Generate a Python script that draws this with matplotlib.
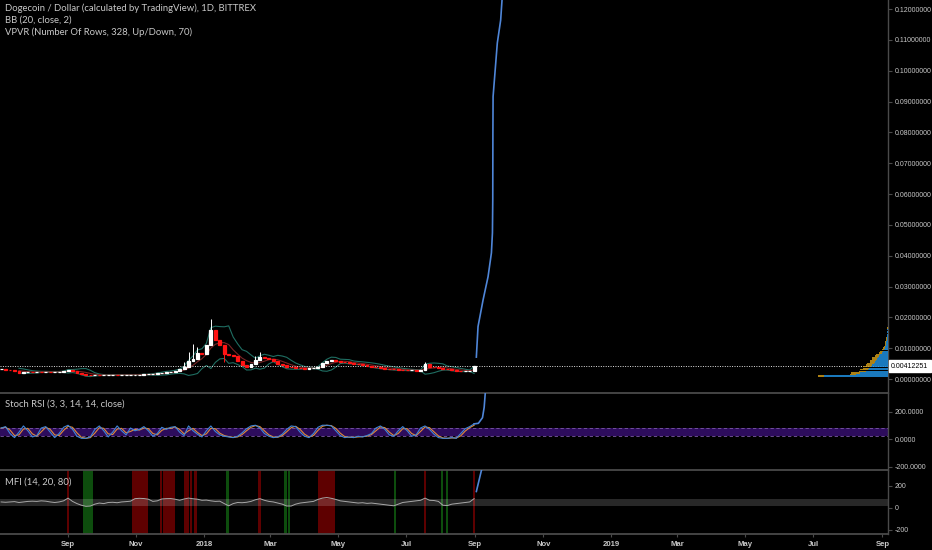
import numpy as np
import pandas as pd
import matplotlib
matplotlib.use("Agg")
import matplotlib.pyplot as plt
import matplotlib.dates as mdates
from matplotlib.ticker import FixedLocator, FixedFormatter, FuncFormatter
import matplotlib.transforms as mtransforms

plt.rcParams["font.family"] = ["Lato", "DejaVu Sans"]

# ---------------- data ----------------
start_date = "2017-07-03"
step_days = 4
closes = [
    0.0031, 0.0030, 0.0028, 0.0026, 0.0020, 0.0022, 0.0024, 0.0023, 0.0024, 0.0022,
    0.0023, 0.0022, 0.0023, 0.0024, 0.0025, 0.0030, 0.0027, 0.0020, 0.0016, 0.0014,
    0.0013, 0.0013, 0.0012, 0.0013, 0.0013, 0.0014, 0.0013, 0.0013, 0.0013, 0.0014,
    0.0014, 0.0014, 0.0015, 0.0015, 0.0017, 0.0019, 0.0021, 0.0023, 0.0024, 0.0027,
    0.0031, 0.0040, 0.0058, 0.0066, 0.0085, 0.0080, 0.0110, 0.0160, 0.0128, 0.0110,
    0.0082, 0.0078, 0.0075, 0.0058, 0.0046, 0.0040, 0.0050, 0.0062, 0.0070, 0.0067,
    0.0066, 0.0058, 0.0050, 0.0045, 0.0040, 0.0038, 0.0036, 0.0035, 0.0034, 0.0035,
    0.0036, 0.0040, 0.0052, 0.0060, 0.0062, 0.0057, 0.0055, 0.0054, 0.0052, 0.0050,
    0.0048, 0.0046, 0.0043, 0.0040, 0.0038, 0.0036, 0.0034, 0.0032, 0.0031, 0.0030,
    0.0029, 0.0028, 0.0028, 0.0027, 0.0028, 0.0048, 0.0040, 0.0038, 0.0036, 0.0033,
    0.0031, 0.0029, 0.0027, 0.0026, 0.0026, 0.0027, 0.0041]

wick_index = [41, 42, 43, 44, 47, 50, 57, 58, 95]
wick_high = [0.0056, 0.0086, 0.0115, 0.0105, 0.0195, 0.0084, 0.0075, 0.0088, 0.0056]
wick_low = [0.0031, 0.0040, 0.0058, 0.0066, 0.0110, 0.0055, 0.0050, 0.0062, 0.0028]

last_price = 0.00412251

# blue projection curve (main pane)
proj_dates = ["2018-09-02 00:00", "2018-09-03 12:00", "2018-09-08 00:00", "2018-09-12 12:00",
              "2018-09-15 12:00", "2018-09-16 10:00", "2018-09-16 17:00", "2018-09-16 20:00",
              "2018-09-17 00:00", "2018-09-18 10:00", "2018-09-20 19:00", "2018-09-23 19:00",
              "2018-09-25 00:00", "2018-09-26 00:00"]
proj_values = [0.0071, 0.0170, 0.0256, 0.0332, 0.0409, 0.0474, 0.0581, 0.0798,
               0.0916, 0.0981, 0.1090, 0.1164, 0.1229, 0.1300]

stoch_k = [
    80, 90, 40, 10, 50, 95, 60, 15, 25, 80,
    90, 50, 10, 40, 85, 100, 70, 20, 5, 5,
    15, 70, 95, 60, 15, 50, 95, 60, 30, 80,
    60, 70, 90, 60, 20, 40, 85, 70, 85, 90,
    50, 25, 95, 60, 35, 15, 60, 95, 55, 30,
    20, 15, 10, 20, 45, 75, 95, 100, 80, 40,
    20, 10, 15, 35, 70, 95, 90, 50, 20, 10,
    40, 85, 100, 100, 95, 60, 25, 10, 15, 10,
    20, 15, 25, 40, 80, 95, 70, 30, 20, 60,
    90, 60, 20, 30, 80, 95, 70, 35, 10, 5,
    5, 10, 5, 40, 75, 90, 110]
stoch_proj_dates = ["2018-08-31 00:00", "2018-09-03 20:00", "2018-09-07 12:00", "2018-09-09 00:00",
                    "2018-09-10 00:00"]
stoch_proj_values = [110, 114, 155, 230, 335]

mfi = [
    55, 52, 55, 58, 50, 55, 60, 62, 60, 65,
    62, 55, 50, 55, 65, 90, 60, 40, 25, 15,
    18, 35, 45, 40, 50, 52, 48, 55, 58, 62,
    85, 88, 86, 80, 60, 65, 82, 85, 86, 80,
    70, 82, 90, 84, 80, 70, 72, 65, 60, 62,
    40, 20, 40, 50, 48, 52, 60, 75, 85, 70,
    60, 55, 45, 35, 18, 18, 35, 45, 50, 55,
    60, 78, 90, 95, 88, 78, 65, 60, 55, 50,
    45, 48, 42, 45, 40, 35, 30, 25, 20, 35,
    50, 55, 60, 65, 70, 90, 70, 68, 60, 25,
    22, 35, 40, 45, 50, 55, 85]
mfi_proj_dates = ["2018-09-02 00:00", "2018-09-06 12:00"]
mfi_proj_values = [150, 340]

mfi_red_start = ["2017-08-31", "2017-10-28", "2017-11-22", "2017-11-25", "2017-12-14", "2017-12-19",
                 "2017-12-23", "2018-02-18", "2018-04-13", "2018-07-17", "2018-08-30"]
mfi_red_end = ["2017-09-02", "2017-11-12", "2017-11-24", "2017-12-06", "2017-12-18", "2017-12-21",
               "2017-12-26", "2018-02-21", "2018-04-28", "2018-07-19", "2018-09-01"]
mfi_green_start = ["2017-09-14", "2018-01-21", "2018-03-14", "2018-03-17", "2018-06-20",
                   "2018-08-01", "2018-08-06"]
mfi_green_end = ["2017-09-23", "2018-01-23", "2018-03-16", "2018-03-19", "2018-06-22",
                 "2018-08-03", "2018-08-08"]

vp_price = [0.0010, 0.0015, 0.0020, 0.0025, 0.0030, 0.0035, 0.0040, 0.0045, 0.0050, 0.0055,
            0.0060, 0.0065, 0.0070, 0.0075, 0.0080, 0.0085, 0.0090, 0.0095, 0.0100, 0.0105,
            0.0110, 0.0115, 0.0120, 0.0125, 0.0130, 0.0135, 0.0140, 0.0145, 0.0150, 0.0155,
            0.0160, 0.0165, 0.0170]
vp_up = [64, 32, 28, 22, 20, 19, 17, 16, 14, 13, 12, 11, 10, 9, 8, 6, 5, 4, 3, 3,
         2, 2, 2, 1.5, 1.5, 1, 1, 1, 1, 0.8, 0.8, 0.5, 0.5]
vp_down = [6, 6, 9, 7, 8, 6, 8, 6, 7, 5, 6, 5, 6, 4, 4, 3, 3, 2, 2, 1,
           1.5, 1, 1, 1, 0.5, 1, 0.5, 0.5, 0.5, 0.3, 0.2, 0.3, 0]

tick_dates = ["2017-09-01", "2017-11-01", "2018-01-01", "2018-03-01", "2018-05-01", "2018-07-01",
              "2018-09-01", "2018-11-01", "2019-01-01", "2019-03-01", "2019-05-01", "2019-07-01",
              "2019-09-01"]
tick_labels = ["Sep", "Nov", "2018", "Mar", "May", "Jul", "Sep", "Nov", "2019", "Mar", "May", "Jul", "Sep"]

price_ticks = [i / 100 for i in range(0, 13)]
osc_ticks = [-200, 0, 200]


def to_dt(lst):
    return pd.to_datetime(lst, format="mixed")


# ---------------- figure ----------------
W, H = 932, 550
BG = "#000000"
TXT = "#c8c8c8"
GRID = "#4a4a4a"
TICKFS = 5.0
TICKFAM = ["Liberation Sans", "DejaVu Sans"]
fig = plt.figure(figsize=(W / 100, H / 100), dpi=100, facecolor=BG)


def px_axes(x0, y0, x1, y1, **kw):
    return fig.add_axes([x0 / W, 1 - y1 / H, (x1 - x0) / W, (y1 - y0) / H], **kw)


ax = px_axes(0, 0, 888, 393)
ax2 = px_axes(0, 393, 888, 470, sharex=ax)
ax3 = px_axes(0, 470, 888, 534, sharex=ax)

dates = pd.date_range(start_date, periods=len(closes), freq=f"{step_days}D")
c = pd.Series(closes, index=dates)

for a in (ax, ax2, ax3):
    a.set_facecolor(BG)
    for s in ("left", "top", "bottom"):
        a.spines[s].set_visible(False)
    a.spines["right"].set_color(GRID)
    a.spines["right"].set_linewidth(1.0)
    a.yaxis.tick_right()
    a.tick_params(axis="y", colors=GRID, labelcolor=TXT, labelsize=TICKFS, length=3, width=0.8, pad=2)
    a.tick_params(axis="x", which="both", bottom=False, labelbottom=False)

for a in (ax2, ax3):
    a.spines["top"].set_visible(True)
    a.spines["top"].set_color(GRID)
    a.spines["top"].set_linewidth(1.3)
ax3.spines["bottom"].set_visible(True)
ax3.spines["bottom"].set_color(GRID)
ax3.spines["bottom"].set_linewidth(1.3)

# ---- main pane: candles ----
opens = c.shift(1).fillna(c.iloc[0])
body_w = pd.Timedelta(days=2.6)
for d, o, cl in zip(dates, opens.values, c.values):
    col = "#ffffff" if cl >= o else "#ff1414"
    lo, hi = min(o, cl), max(o, cl)
    ax.bar(d, hi - lo, bottom=lo, width=body_w, color=col, edgecolor=col, linewidth=0.9, zorder=4)
for i, hh, ll in zip(wick_index, wick_high, wick_low):
    o, cl = opens.iloc[i], c.iloc[i]
    col = "#ffffff" if cl >= o else "#ff1414"
    ax.vlines(dates[i], ll, hh, color=col, linewidth=0.7, zorder=3)

# Bollinger bands BB(20, close, 2) -> 5 samples of 4 days
basis = c.rolling(5).mean()
dev = c.rolling(5).std(ddof=0)
ax.plot(dates, basis + 2 * dev, color="#1f6e62", lw=0.8, zorder=2)
ax.plot(dates, basis - 2 * dev, color="#1f6e62", lw=0.8, zorder=2)
ax.plot(dates, basis, color="#7a2424", lw=0.8, zorder=2)

# projection
ax.plot(to_dt(proj_dates), proj_values, color="#4f86d8", lw=1.2, zorder=5)

# last price line + label
ax.axhline(last_price, color="#e0e0e0", lw=0.7, ls=(0, (1, 1.5)), zorder=3)
trans = mtransforms.blended_transform_factory(ax.transAxes, ax.transData)
ax.text(1.0 + 3 / 888, last_price, f"{last_price:.8f}", transform=trans, ha="left", va="center",
        fontsize=TICKFS, family=TICKFAM, color="#000000", clip_on=False, zorder=10,
        bbox=dict(boxstyle="square,pad=0.35", facecolor="#ffffff", edgecolor="#ffffff"))

ax.set_ylim(-14 / 3083, 379 / 3083)
ax.yaxis.set_major_locator(FixedLocator(price_ticks))
ax.yaxis.set_major_formatter(FuncFormatter(lambda v, p: f"{v:.8f}"))

# VPVR histogram
vp = ax.inset_axes([1 - 75 / 888, 0, 75 / 888, 1], sharey=ax)
vp.set_facecolor("none")
vp.patch.set_alpha(0)
vp.barh(vp_price, vp_up, height=0.00046, left=0, color="#1f8fe0", alpha=0.85, linewidth=0)
vp.barh(vp_price, vp_down, height=0.00046, left=vp_up, color="#d9a21a", alpha=0.8, linewidth=0)
vp.set_xlim(75, 0)
vp.axis("off")

# ---- Stoch RSI pane ----
k = pd.Series(stoch_k, index=dates, dtype=float)
dline = k.rolling(2, min_periods=1).mean()
ax2.axhspan(20, 80, facecolor="#2d0c5c", edgecolor="none", zorder=0)
ax2.axhline(20, color="#7c5aa6", lw=0.6, ls=(0, (4, 3)), zorder=1)
ax2.axhline(80, color="#7c5aa6", lw=0.6, ls=(0, (4, 3)), zorder=1)
ax2.plot(dates, dline, color="#e08a3a", lw=0.8, zorder=2)
ax2.plot(dates, k, color="#3f86d6", lw=0.8, zorder=3)
ax2.plot(to_dt(stoch_proj_dates), stoch_proj_values, color="#4f86d8", lw=1.2, zorder=4)
ax2.set_ylim(-31 / 0.1375, 46 / 0.1375)
ax2.yaxis.set_major_locator(FixedLocator(osc_ticks))
ax2.yaxis.set_major_formatter(FuncFormatter(lambda v, p: f"{v:.4f}"))

# ---- MFI pane ----
for s, e in zip(mfi_red_start, mfi_red_end):
    ax3.axvspan(pd.Timestamp(s), pd.Timestamp(e), facecolor="#5e0000", edgecolor="none", zorder=0)
for s, e in zip(mfi_green_start, mfi_green_end):
    ax3.axvspan(pd.Timestamp(s), pd.Timestamp(e), facecolor="#0d4d0d", edgecolor="none", zorder=0)
ax3.axhspan(20, 80, facecolor="#ffffff", alpha=0.16, edgecolor="none", zorder=1)
ax3.plot(dates, mfi, color="#a8a8a8", lw=0.7, zorder=2)
ax3.plot(to_dt(mfi_proj_dates), mfi_proj_values, color="#4f86d8", lw=1.2, zorder=4)
ax3.set_ylim(-26 / 0.11, 38 / 0.11)
ax3.yaxis.set_major_locator(FixedLocator(osc_ticks))
ax3.yaxis.set_major_formatter(FuncFormatter(lambda v, p: f"{int(v)}"))

for a in (ax, ax2, ax3):
    for t in a.get_yticklabels():
        t.set_family(TICKFAM)

# x axis
ax.set_xlim(pd.Timestamp("2017-07-02"), pd.Timestamp("2019-09-06"))
ax3.tick_params(axis="x", which="both", bottom=True, labelbottom=True, length=2, colors=GRID,
                labelcolor=TXT, labelsize=5.6, pad=3)
ax3.xaxis.set_major_locator(FixedLocator(mdates.date2num(pd.to_datetime(tick_dates))))
ax3.xaxis.set_major_formatter(FixedFormatter(tick_labels))
for t in ax3.get_xticklabels():
    t.set_fontweight("bold")
    t.set_family(TICKFAM)

# legends / titles
LFS = 6.8
fig.text(5 / W, 1 - 8 / H, "Dogecoin / Dollar (calculated by TradingView), 1D, BITTREX",
         color=TXT, fontsize=LFS, va="center", ha="left")
fig.text(5 / W, 1 - 20 / H, "BB (20, close, 2)", color=TXT, fontsize=LFS, va="center", ha="left")
fig.text(5 / W, 1 - 32 / H, "VPVR (Number Of Rows, 328, Up/Down, 70)", color=TXT, fontsize=LFS,
         va="center", ha="left")
fig.text(5 / W, 1 - 404 / H, "Stoch RSI (3, 3, 14, 14, close)", color=TXT, fontsize=LFS,
         va="center", ha="left")
fig.text(5 / W, 1 - 482 / H, "MFI (14, 20, 80)", color=TXT, fontsize=LFS, va="center", ha="left")

fig.savefig("out.png", dpi=100, facecolor=BG)
